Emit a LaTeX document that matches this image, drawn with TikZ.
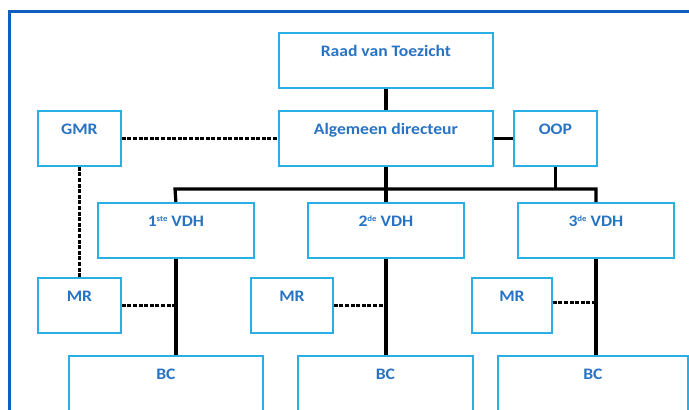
\documentclass[tikz,border=0pt]{standalone}
\usepackage{fontspec}
\setmainfont{Carlito}
\definecolor{boxline}{RGB}{40,175,230}
\definecolor{txtblue}{RGB}{40,115,195}
\definecolor{framec}{RGB}{15,95,195}
\newcommand{\lbl}[1]{\scalebox{1.1}[1]{#1}}
\newcommand{\sups}[1]{\raisebox{5pt}{\fontsize{8}{8}\selectfont #1}}
\begin{document}
\begin{tikzpicture}[x=1pt,y=-1pt,
  box/.style={draw=boxline, line width=1.8pt, fill=white, inner sep=0pt,
    text height=24pt, text depth=31pt, anchor=north west,
    font=\fontsize{16}{18}\selectfont\bfseries, text=txtblue},
  solidc/.style={line width=3.2pt, black},
  dashc/.style={line width=3pt, black, dash pattern=on 4pt off 1.6pt}]
\useasboundingbox (0,0) rectangle (689,410);
\clip (0,0) rectangle (689,410);
\fill[white] (0,0) rectangle (689,410);
% frame
\draw[framec, line width=3pt] (9,420) -- (9,11) -- (700,11);
% boxes
\node[box, minimum width=214pt] (raad) at (278,32) {\lbl{Raad van Toezicht}};
\node[box, minimum width=214pt] (alg) at (278,110) {\lbl{Algemeen directeur}};
\node[box, minimum width=83pt] (gmr) at (37,110) {\lbl{GMR}};
\node[box, minimum width=83pt] (oop) at (513,110) {\lbl{OOP}};
\node[box, minimum width=156pt] (v1) at (97,202) {\lbl{1\sups{ste} VDH}};
\node[box, minimum width=156pt] (v2) at (307,202) {\lbl{2\sups{de} VDH}};
\node[box, minimum width=156pt] (v3) at (517,202) {\lbl{3\sups{de} VDH}};
\node[box, minimum width=83pt] (mr1) at (37,277) {\lbl{MR}};
\node[box, minimum width=82pt] (mr2) at (250,277) {\lbl{MR}};
\node[box, minimum width=80pt] (mr3) at (471,277) {\lbl{MR}};
\node[box, minimum width=194pt, text depth=50pt] (bc1) at (68,355) {\lbl{BC}};
\node[box, minimum width=175pt, text depth=50pt] (bc2) at (297,355) {\lbl{BC}};
\node[box, minimum width=190pt, text depth=50pt] (bc3) at (497,355) {\lbl{BC}};
% bus
\coordinate (busL) at (175,189);
\coordinate (busR) at (596,189);
% connectors
\draw[solidc] (raad.south) -- (alg.north);
\draw[dashc] (gmr.east) -- (alg.west);
\draw[solidc] (alg.east) -- (oop.west);
\draw[dashc] (gmr.south) -- (mr1.north);
\draw[solidc] (alg.south) -- (alg.south |- busL);
\draw[solidc] (oop.south) -- (oop.south |- busL);
\draw[solidc] (v1.north) -- (busL) -- (busR) -- (v3.north);
\draw[solidc] (v2.north) -- (v2.north |- busL);
\draw[solidc] (v1.south) -- (v1.south |- bc1.north);
\draw[solidc] (v2.south) -- (v2.south |- bc2.north);
\draw[solidc] (v3.south) -- (v3.south |- bc3.north);
\draw[dashc] (mr1.east) -- (mr1.east -| v1.south);
\draw[dashc] (mr2.east) -- (mr2.east -| v2.south);
\draw[dashc] ([yshift=3pt]mr3.east) -- ([yshift=3pt]mr3.east -| v3.south);
\end{tikzpicture}
\end{document}
